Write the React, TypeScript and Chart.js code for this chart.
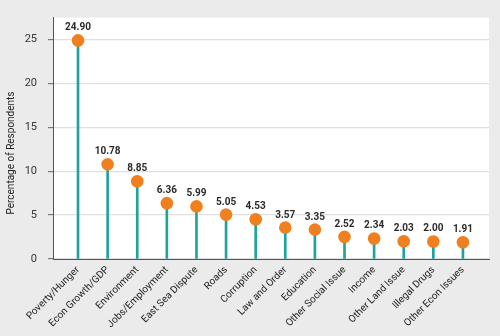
import React, { useEffect, useRef } from "react";
import { Chart, registerables } from "chart.js";

Chart.register(...registerables);

const categories = [
  "Poverty/Hunger",
  "Econ Growth/GDP",
  "Environment",
  "Jobs/Employment",
  "East Sea Dispute",
  "Roads",
  "Corruption",
  "Law and Order",
  "Education",
  "Other Social Issue",
  "Income",
  "Other Land Issue",
  "Illegal Drugs",
  "Other Econ Issues",
];
const values = [24.9, 10.78, 8.85, 6.36, 5.99, 5.05, 4.53, 3.57, 3.35, 2.52, 2.34, 2.03, 2.0, 1.91];
const yTicks = [0, 5, 10, 15, 20, 25];
const yTitle = "Percentage of Respondents";

const TEAL = "#1fa39a";
const ORANGE = "#f07f1f";
const FONT = "Roboto, 'Open Sans', sans-serif";

export default function App() {
  const ref = useRef<HTMLCanvasElement | null>(null);

  useEffect(() => {
    document.body.style.margin = "0";
    const canvas = ref.current;
    if (!canvas) return;

    const bgPlugin = {
      id: "bg",
      beforeDraw(chart: any) {
        const { ctx, chartArea } = chart;
        ctx.save();
        ctx.fillStyle = "#ebebeb";
        ctx.fillRect(0, 0, chart.width, chart.height);
        ctx.fillStyle = "#ffffff";
        ctx.fillRect(chartArea.left, chartArea.top, chartArea.right - chartArea.left, chartArea.bottom - chartArea.top);
        ctx.restore();
      },
    };

    const labelPlugin = {
      id: "vals",
      afterDatasetsDraw(chart: any) {
        const { ctx } = chart;
        const meta = chart.getDatasetMeta(0);
        ctx.save();
        ctx.font = `bold 10px ${FONT}`;
        ctx.fillStyle = "#2b2b2b";
        ctx.textAlign = "center";
        ctx.textBaseline = "bottom";
        meta.data.forEach((pt: any, i: number) => {
          ctx.fillText(values[i].toFixed(2), pt.x, pt.y - 7.5);
        });
        // y-axis title
        ctx.font = `10px ${FONT}`;
        ctx.fillStyle = "#222222";
        ctx.translate(11, 153);
        ctx.rotate(-Math.PI / 2);
        ctx.textAlign = "center";
        ctx.textBaseline = "middle";
        ctx.fillText(yTitle, 0, 0);
        ctx.restore();
      },
    };

    const pts = values.map((v, i) => ({ x: i, y: v }));

    const chart = new Chart(canvas, {
      type: "bar",
      data: {
        datasets: [
          {
            type: "line",
            data: pts,
            showLine: false,
            pointRadius: 6.3,
            pointHoverRadius: 6.3,
            pointBackgroundColor: ORANGE,
            pointBorderWidth: 0,
            borderColor: ORANGE,
            order: 0,
          } as any,
          {
            type: "bar",
            data: pts,
            backgroundColor: TEAL,
            barThickness: 2,
            order: 1,
          } as any,
        ],
      },
      options: {
        animation: false,
        responsive: false,
        events: [],
        layout: { padding: { top: 9.5, right: 11, left: 0, bottom: 0 } },
        plugins: { legend: { display: false }, tooltip: { enabled: false } },
        scales: {
          x: {
            type: "linear",
            offset: false,
            min: -0.845,
            max: 13.88,
            afterBuildTicks: (scale: any) => {
              scale.ticks = categories.map((_, i) => ({ value: i }));
            },
            afterFit: (scale: any) => {
              scale.height = 77;
              scale.paddingLeft = 0;
              scale.paddingRight = 0;
            },
            ticks: {
              autoSkip: false,
              maxRotation: 45,
              minRotation: 45,
              padding: 5,
              color: "#222222",
              font: { family: FONT, size: 10 },
              callback: (v: any) => categories[v as number] ?? "",
            },
            grid: { display: false, drawTicks: false },
            border: { display: true, color: "#555555", width: 1 },
          },
          y: {
            min: 0,
            max: 27.5,
            afterBuildTicks: (scale: any) => {
              scale.ticks = yTicks.map((v) => ({ value: v }));
            },
            afterFit: (scale: any) => {
              scale.width = 53;
            },
            ticks: {
              padding: 11,
              color: "#333333",
              font: { family: FONT, size: 11 },
            },
            grid: {
              color: "#e0e0e0",
              lineWidth: 1.3,
              tickLength: 5,
              tickColor: "#666666",
              tickWidth: 1,
            },
            border: { display: true, color: "#555555", width: 1 },
          },
        },
      },
      plugins: [bgPlugin, labelPlugin],
    } as any);

    return () => chart.destroy();
  }, []);

  return (
    <div style={{ width: 500, height: 336, background: "#ebebeb" }}>
      <canvas ref={ref} width={500} height={336} style={{ display: "block" }} />
    </div>
  );
}
